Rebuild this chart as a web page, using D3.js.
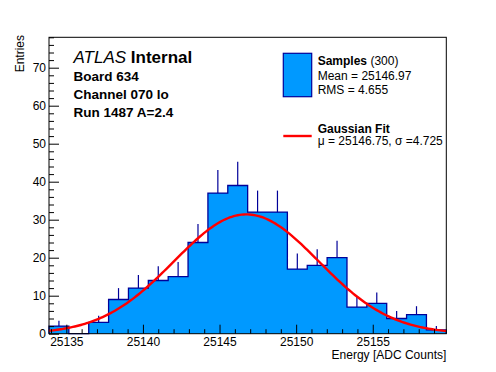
<!DOCTYPE html>
<html>
<head>
<meta charset="utf-8" />
<title>Energy histogram</title>
<script src="https://d3js.org/d3.v7.min.js"></script>
<style>
	body { margin: 0; background: #fff; }
	text { font-family: "Liberation Sans", Arial, Helvetica, sans-serif; }
</style>
</head>
<body>
<div id="chart"></div>
<script>
	// histogram range and bin contents (20 bins)
	const histMin = 25133.87;
	const histMax = 25159.8;
	const counts = [2, 0, 3, 9, 12, 14, 15, 24, 37, 39, 32, 32, 17, 18, 20, 7, 8, 4, 5, 1];
	const xTicks = [25135, 25140, 25145, 25150, 25155];
	const yTicks = [0, 10, 20, 30, 40, 50, 60, 70];
	const yMax = 78;
	// gaussian fit parameters
	const fitMu = 25146.75;
	const fitSigma = 4.725;
	const fitAmp = 31.4;
	const infoLines = ["Board 634", "Channel 070 lo", "Run 1487 A=2.4"];
	const statLines = ["Mean = 25146.97", "RMS = 4.655"];

	const width = 496, height = 372;
	const fL = 49, fR = 446.3, fT = 37.3, fB = 333.7;
	const fillCol = "#0099ff", lineCol = "#000099";

	const svg = d3.select("#chart").append("svg")
		.attr("width", width)
		.attr("height", height);

	const x = d3.scaleLinear().domain([histMin, histMax]).range([fL, fR]);
	const y = d3.scaleLinear().domain([0, yMax]).range([fB, fT]);

	const binW = (histMax - histMin) / counts.length;
	const bins = counts.map((c, i) => ({ lo: histMin + i * binW, hi: histMin + (i + 1) * binW, c: c }));

	// step outline points: baseline -> each bin top -> baseline
	const pts = [[histMin, 0]];
	bins.forEach(d => { pts.push([d.lo, d.c]); pts.push([d.hi, d.c]); });
	pts.push([histMax, 0]);
	const stepLine = d3.line().x(d => x(d[0])).y(d => y(d[1]));

	// filled histogram (one path, no seams)
	svg.append("path")
		.attr("d", stepLine(pts) + "Z")
		.attr("fill", fillCol);

	svg.append("path")
		.attr("d", stepLine(pts))
		.attr("fill", "none")
		.attr("stroke", lineCol)
		.attr("stroke-width", 1.3);

	// error bars (upper half)
	svg.append("g").selectAll("line")
		.data(bins.filter(d => d.c > 0))
		.enter()
		.append("line")
		.attr("x1", d => x((d.lo + d.hi) / 2))
		.attr("x2", d => x((d.lo + d.hi) / 2))
		.attr("y1", d => y(d.c))
		.attr("y2", d => y(d.c + Math.sqrt(d.c)))
		.attr("stroke", lineCol)
		.attr("stroke-width", 1.2);

	// gaussian fit
	const gx = d3.range(0, 201).map(i => histMin + i * (histMax - histMin) / 200);
	svg.append("path")
		.attr("d", d3.line()
			.x(d => x(d))
			.y(d => y(fitAmp * Math.exp(-0.5 * Math.pow((d - fitMu) / fitSigma, 2))))(gx))
		.attr("fill", "none")
		.attr("stroke", "#ff0000")
		.attr("stroke-width", 2.4);

	// axes
	const minorX = d3.range(25134, 25160).filter(v => xTicks.indexOf(v) < 0);
	const minorY = d3.range(0, yMax + 1, 2).filter(v => yTicks.indexOf(v) < 0);

	svg.append("g")
		.attr("transform", "translate(0," + fB + ")")
		.call(d3.axisBottom(x).tickValues(minorX).tickSize(-4.5).tickFormat(""))
		.call(g => g.select(".domain").remove());
	const xAxis = svg.append("g")
		.attr("transform", "translate(0," + fB + ")")
		.call(d3.axisBottom(x).tickValues(xTicks).tickSize(-9).tickPadding(4).tickFormat(d3.format("d")));
	xAxis.select(".domain").remove();
	xAxis.selectAll("text").attr("font-size", 12).attr("font-family", null).attr("fill", "#000");

	svg.append("g")
		.attr("transform", "translate(" + fL + ",0)")
		.call(d3.axisLeft(y).tickValues(minorY).tickSize(-5).tickFormat(""))
		.call(g => g.select(".domain").remove());
	const yAxis = svg.append("g")
		.attr("transform", "translate(" + fL + ",0)")
		.call(d3.axisLeft(y).tickValues(yTicks).tickSize(-10).tickPadding(3));
	yAxis.select(".domain").remove();
	yAxis.selectAll("text").attr("font-size", 12).attr("font-family", null).attr("fill", "#000");

	// frame
	svg.append("rect")
		.attr("x", fL).attr("y", fT)
		.attr("width", fR - fL).attr("height", fB - fT)
		.attr("fill", "none").attr("stroke", "#000").attr("stroke-width", 1);

	// axis titles
	svg.append("text")
		.attr("x", fR).attr("y", 359)
		.attr("text-anchor", "end")
		.attr("font-size", 12)
		.text("Energy [ADC Counts]");
	svg.append("text")
		.attr("transform", "translate(24,35) rotate(-90)")
		.attr("text-anchor", "end")
		.attr("font-size", 12)
		.text("Entries");

	// ATLAS label
	const atl = svg.append("text").attr("x", 73.5).attr("y", 62.5).attr("font-size", 17);
	atl.append("tspan").attr("font-style", "italic").text("ATLAS");
	atl.append("tspan").attr("font-weight", "bold").text(" Internal");
	svg.append("g").selectAll("text")
		.data(infoLines)
		.enter()
		.append("text")
		.attr("x", 73.5)
		.attr("y", (d, i) => 81 + i * 18)
		.attr("font-size", 13.5)
		.attr("font-weight", "bold")
		.text(d => d);

	// legend
	svg.append("rect")
		.attr("x", 283.3).attr("y", 53.3)
		.attr("width", 28.4).attr("height", 43.4)
		.attr("fill", fillCol).attr("stroke", lineCol).attr("stroke-width", 1.2);
	const s = svg.append("text").attr("x", 317.7).attr("y", 65).attr("font-size", 12);
	s.append("tspan").attr("font-weight", "bold").text("Samples");
	s.append("tspan").text(" (300)");
	svg.append("g").selectAll("text")
		.data(statLines)
		.enter()
		.append("text")
		.attr("x", 317.7)
		.attr("y", (d, i) => 80 + i * 14)
		.attr("font-size", 12)
		.text(d => d);

	svg.append("line")
		.attr("x1", 283.3).attr("x2", 311.7)
		.attr("y1", 136).attr("y2", 136)
		.attr("stroke", "#ff0000").attr("stroke-width", 2.4);
	svg.append("text")
		.attr("x", 317.7).attr("y", 132.5)
		.attr("font-size", 12).attr("font-weight", "bold")
		.text("Gaussian Fit");
	svg.append("text")
		.attr("x", 317.7).attr("y", 145)
		.attr("font-size", 12)
		.text("\u03bc = " + fitMu + ", \u03c3 =" + fitSigma);
</script>
</body>
</html>
